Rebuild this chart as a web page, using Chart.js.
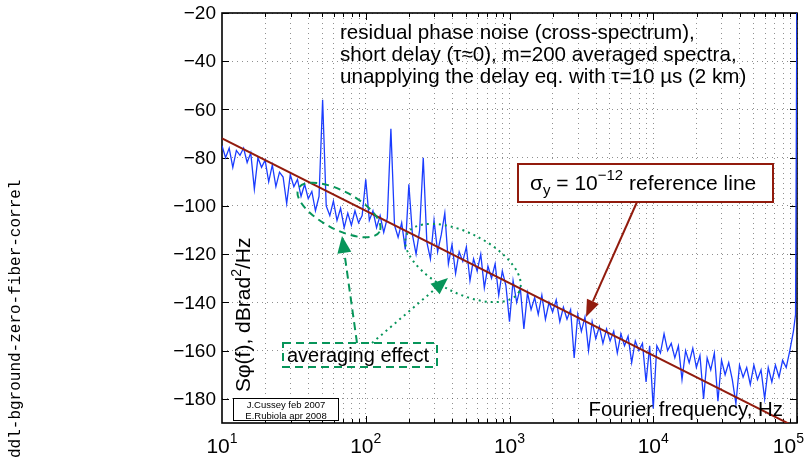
<!DOCTYPE html>
<html>
<head>
<meta charset="utf-8">
<script src="https://cdn.jsdelivr.net/npm/chart.js@4.4.1/dist/chart.umd.min.js"></script>
<style>
  html, body { margin: 0; padding: 0; background: #fff; }
  #wrap { width: 805px; height: 462px; position: relative; }
</style>
</head>
<body>
<div id="wrap"><canvas id="chartNoise"></canvas></div>
<script>
// frequency grid of the measured spectrum (Hz)
const freqHz = [
  10, 10.59, 11.22, 11.89, 12.59, 13.34, 14.13, 14.96, 15.85, 16.79, 17.78, 18.84, 19.95, 21.13, 22.39, 23.71, 25.12, 26.61, 28.18, 29.85,
  31.62, 33.5, 35.48, 37.58, 39.81, 42.17, 44.67, 47.32, 50.12, 53.09, 56.23, 59.57, 63.1, 66.83, 70.79, 74.99, 79.43, 84.14, 89.13, 94.41,
  100, 105.9, 112.2, 118.9, 125.9, 133.4, 141.3, 149.6, 158.5, 167.9, 177.8, 188.4, 199.5, 211.3, 223.9, 237.1, 251.2, 266.1, 281.8, 298.5,
  316.2, 335, 354.8, 375.8, 398.1, 421.7, 446.7, 473.2, 501.2, 530.9, 562.3, 595.7, 631, 668.3, 707.9, 749.9, 794.3, 841.4, 891.3, 944.1,
  1000, 1059, 1122, 1189, 1259, 1334, 1413, 1496, 1585, 1679, 1778, 1884, 1995, 2113, 2239, 2371, 2512, 2661, 2818, 2985,
  3162, 3350, 3548, 3758, 3981, 4217, 4467, 4732, 5012, 5309, 5623, 5957, 6310, 6683, 7079, 7499, 7943, 8414, 8913, 9441,
  10000, 10590, 11220, 11890, 12590, 13340, 14130, 14960, 15850, 16790, 17780, 18840, 19950, 21130, 22390, 23710, 25120, 26610, 28180, 29850,
  31620, 33500, 35480, 37580, 39810, 42170, 44670, 47320, 50120, 53090, 56230, 59570, 63100, 66830, 70790, 74990, 79430, 84140, 89130, 94410,
  97700, 100000
];

// residual phase noise, dBrad^2/Hz
const phaseNoiseDb = [
  -75, -80, -76, -84, -77, -79, -76, -82, -78, -93, -80, -84, -81, -90, -83, -92, -86, -88, -99, -87,
  -92, -89, -96, -91, -97, -94, -102, -96, -56, -100, -104, -98, -106, -101, -109, -103, -108, -102, -107, -104,
  -89, -106, -102, -109, -104, -111, -105, -68, -108, -113, -107, -118, -91, -112, -120, -110, -80, -115, -122, -106,
  -119, -112, -103, -124, -116, -128, -119, -123, -117, -131, -122, -127, -120, -134, -125, -130, -124, -137, -127, -133,
  -148, -131, -140, -134, -151, -136, -143, -138, -145, -137, -147, -140, -144, -139, -148, -142, -147, -143, -163, -145,
  -152, -146, -160, -148, -155, -150, -157, -151, -156, -152, -161, -153, -158, -154, -165, -156, -160, -157, -173, -158,
  -184, -158, -161, -153, -160, -157, -163, -158, -172, -160, -165, -159, -167, -162, -180, -163, -168, -161, -181, -164,
  -170, -165, -172, -182, -166, -171, -167, -174, -166, -172, -168, -180, -167, -173, -166, -171, -164, -167, -160, -152,
  -145, -5
];

// sigma_y = 1e-12 reference line
const refLineHz = [10, 100000];
const refLineDb = [-72, -192];

// axes
const yTicks = [-180, -160, -140, -120, -100, -80, -60, -40, -20];
const xDecadeExps = [1, 2, 3, 4, 5];

const FONT = '"Liberation Sans", Arial, Helvetica, sans-serif';
const GREEN = '#07955a';
const DARKRED = '#921b0d';

function textWithSup(ctx, parts, x, y) {
  // parts: [text, size, dy]
  let cx = x;
  parts.forEach(p => {
    ctx.font = p[1] + 'px ' + FONT;
    ctx.fillText(p[0], cx, y + (p[2] || 0));
    cx += ctx.measureText(p[0]).width;
  });
  return cx;
}

function partsWidth(ctx, parts) {
  let w = 0;
  parts.forEach(p => {
    ctx.font = p[1] + 'px ' + FONT;
    w += ctx.measureText(p[0]).width;
  });
  return w;
}

function arrow(ctx, x1, y1, x2, y2, color, dash, headLen, headW) {
  const ang = Math.atan2(y2 - y1, x2 - x1);
  const bx = x2 - headLen * Math.cos(ang);
  const by = y2 - headLen * Math.sin(ang);
  ctx.save();
  ctx.strokeStyle = color;
  ctx.fillStyle = color;
  ctx.lineWidth = 2;
  ctx.setLineDash(dash);
  ctx.beginPath();
  ctx.moveTo(x1, y1);
  ctx.lineTo(bx, by);
  ctx.stroke();
  ctx.setLineDash([]);
  ctx.beginPath();
  ctx.moveTo(x2, y2);
  ctx.lineTo(bx + headW / 2 * Math.sin(ang), by - headW / 2 * Math.cos(ang));
  ctx.lineTo(bx - headW / 2 * Math.sin(ang), by + headW / 2 * Math.cos(ang));
  ctx.closePath();
  ctx.fill();
  ctx.restore();
}

function ellipse(ctx, cx, cy, a, b, deg, dash) {
  ctx.save();
  ctx.strokeStyle = GREEN;
  ctx.lineWidth = 2;
  ctx.setLineDash(dash);
  ctx.beginPath();
  ctx.ellipse(cx, cy, a, b, deg * Math.PI / 180, 0, Math.PI * 2);
  ctx.stroke();
  ctx.restore();
}

const frame = {
  id: 'frame',
  beforeDatasetsDraw(chart) {
    const { ctx, chartArea: a, scales } = chart;
    ctx.save();
    ctx.strokeStyle = '#000';
    ctx.lineWidth = 1;
    // inward ticks
    scales.x.ticks.forEach(t => {
      const x = Math.round(scales.x.getPixelForValue(t.value)) + 0.5;
      const len = t.major ? 7 : 4;
      ctx.beginPath();
      ctx.moveTo(x, a.bottom); ctx.lineTo(x, a.bottom - len);
      ctx.moveTo(x, a.top); ctx.lineTo(x, a.top + len);
      ctx.stroke();
    });
    yTicks.forEach(v => {
      const y = Math.round(scales.y.getPixelForValue(v)) + 0.5;
      ctx.beginPath();
      ctx.moveTo(a.left, y); ctx.lineTo(a.left + 7, y);
      ctx.moveTo(a.right, y); ctx.lineTo(a.right - 7, y);
      ctx.stroke();
    });
    ctx.lineWidth = 1.6;
    ctx.strokeRect(a.left, a.top, a.right - a.left, a.bottom - a.top);
    ctx.restore();
  },
  afterDraw(chart) {
    const { ctx, chartArea: a, scales } = chart;
    ctx.save();
    ctx.fillStyle = '#000';

    // y tick labels
    ctx.font = '19px ' + FONT;
    ctx.textAlign = 'right';
    ctx.textBaseline = 'middle';
    yTicks.forEach(v => {
      ctx.fillText(String(v).replace('-', '\u2212'), 216, scales.y.getPixelForValue(v) + 1);
    });

    // x tick labels 10^n
    ctx.textAlign = 'left';
    ctx.textBaseline = 'alphabetic';
    xDecadeExps.forEach(e => {
      const x = scales.x.getPixelForValue(Math.pow(10, e));
      const parts = [['10', 21, 0], [String(e), 14, -10]];
      const w = partsWidth(ctx, parts);
      let x0 = x - w / 2;
      if (x0 + w > 804) x0 = 804 - w;
      textWithSup(ctx, parts, x0, 453);
    });

    // x title inside plot
    ctx.font = '20.4px ' + FONT;
    ctx.textAlign = 'right';
    ctx.fillText('Fourier frequency, Hz', 783, 416);

    // y title inside plot, rotated
    ctx.save();
    ctx.translate(250, 392);
    ctx.rotate(-Math.PI / 2);
    ctx.textAlign = 'left';
    textWithSup(ctx, [['S\u03c6(f), dBrad', 21, 0], ['2', 14, -9], ['/Hz', 21, 0]], 0, 0);
    ctx.restore();

    // description text
    ctx.textAlign = 'left';
    ctx.font = '20.6px ' + FONT;
    ctx.fillText('residual phase noise (cross-spectrum),', 340, 39);
    ctx.fillText('short delay (\u03c4\u22480), m=200 averaged spectra,', 340, 61);
    ctx.fillText('unapplying the delay eq. with \u03c4=10 \u00b5s (2 km)', 340, 83);

    // sigma reference box
    ctx.fillStyle = '#fff';
    ctx.fillRect(518, 164, 255, 38);
    ctx.strokeStyle = DARKRED;
    ctx.lineWidth = 2;
    ctx.strokeRect(518, 164, 255, 38);
    ctx.fillStyle = '#000';
    textWithSup(ctx, [['\u03c3', 21, 0], ['y', 15, 5], [' = 10', 21, 0], ['\u221212', 15, -10], [' reference line', 21, 0]], 530, 190);
    arrow(ctx, 637, 202, 586, 317, DARKRED, [], 17, 13);

    // averaging effect annotation
    ellipse(ctx, 339, 210, 46, 19, 28, [7, 5]);
    ellipse(ctx, 463, 263, 63, 30, 27, [2, 4]);
    ctx.save();
    ctx.strokeStyle = GREEN;
    ctx.lineWidth = 2;
    ctx.setLineDash([8, 5]);
    ctx.strokeRect(283, 343, 154, 24);
    ctx.restore();
    ctx.fillStyle = '#000';
    ctx.font = '20px ' + FONT;
    ctx.fillText('averaging effect', 287, 362);
    arrow(ctx, 357, 343, 342, 236, GREEN, [8, 5], 17, 14);
    arrow(ctx, 372, 343, 448, 278, GREEN, [2, 4], 17, 14);

    // credits box
    ctx.fillStyle = '#fff';
    ctx.fillRect(233, 398, 105, 22);
    ctx.strokeStyle = '#000';
    ctx.lineWidth = 1;
    ctx.strokeRect(233.5, 398.5, 105, 22);
    ctx.fillStyle = '#000';
    ctx.font = '9.5px ' + FONT;
    ctx.textAlign = 'center';
    ctx.fillText('J.Cussey feb 2007', 286, 408);
    ctx.fillText('E.Rubiola apr 2008', 286, 418.5);

    // file name on the far left
    ctx.save();
    ctx.translate(20, 458);
    ctx.rotate(-Math.PI / 2);
    ctx.textAlign = 'left';
    ctx.font = '16px "Liberation Mono", "DejaVu Sans Mono", monospace';
    ctx.fillText('ddl-bground-zero-fiber-correl', 0, 0);
    ctx.restore();

    ctx.restore();
  }
};

const gridStyle = { color: 'rgba(70,70,70,0.6)', lineWidth: 1, drawTicks: false };

new Chart(document.getElementById('chartNoise'), {
  type: 'line',
  data: {
    datasets: [
      {
        label: 'reference line',
        data: refLineHz.map((f, i) => ({ x: f, y: refLineDb[i] })),
        borderColor: DARKRED,
        borderWidth: 2,
        pointRadius: 0,
        order: 0
      },
      {
        label: 'phase noise',
        data: freqHz.map((f, i) => ({ x: f, y: phaseNoiseDb[i] })),
        borderColor: '#1a3cff',
        borderWidth: 1.3,
        pointRadius: 0,
        tension: 0,
        order: 1
      }
    ]
  },
  options: {
    responsive: true,
    maintainAspectRatio: false,
    animation: false,
    layout: { padding: { top: 13, right: 8, left: 0, bottom: 0 } },
    plugins: { legend: { display: false }, tooltip: { enabled: false } },
    scales: {
      x: {
        type: 'logarithmic',
        min: 10,
        max: 100000,
        ticks: { display: false },
        grid: gridStyle,
        border: { display: false, dash: [1, 4] },
        afterBuildTicks(scale) {
          const t = [];
          xDecadeExps.forEach(e => {
            for (let m = 1; m <= 9; m++) {
              const v = m * Math.pow(10, e - 1);
              if (v > 10) t.push({ value: v, major: m === 1 });
            }
          });
          t.push({ value: 100000, major: true });
          scale.ticks = t;
        },
        afterFit(scale) { scale.height = 39; }
      },
      y: {
        min: -190,
        max: -20,
        ticks: { display: false },
        grid: gridStyle,
        border: { display: false, dash: [1, 4] },
        afterBuildTicks(scale) {
          scale.ticks = yTicks.map(v => ({ value: v }));
        },
        afterFit(scale) { scale.width = 222; }
      }
    }
  },
  plugins: [frame]
});
</script>
</body>
</html>
